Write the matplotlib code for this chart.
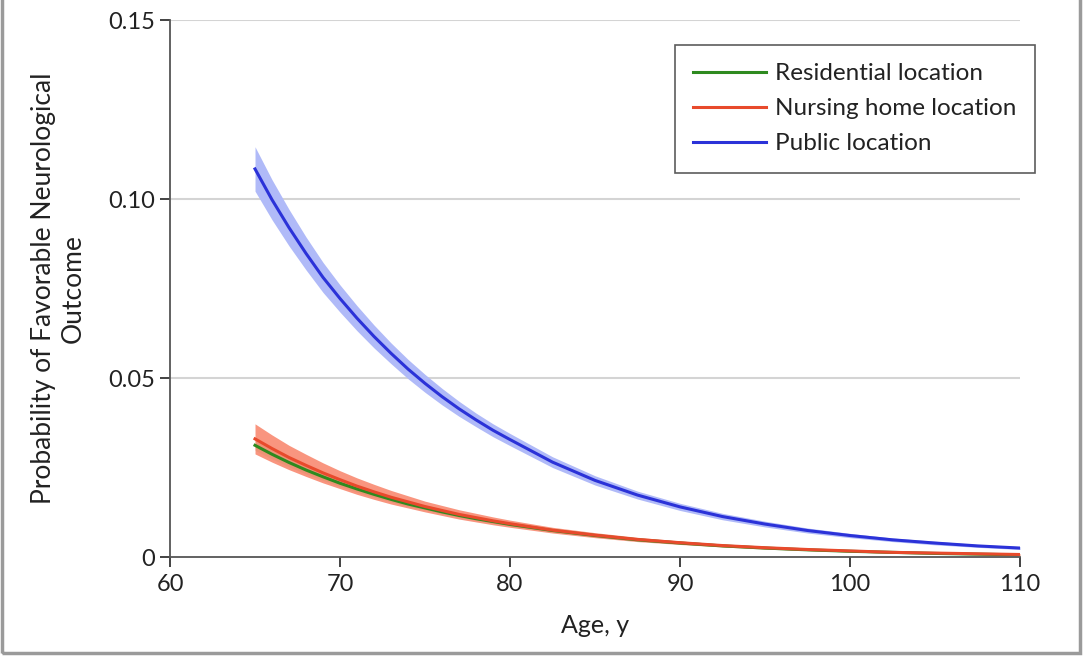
import numpy as np
import matplotlib.pyplot as plt
from matplotlib.patches import Rectangle

# values
age = [65, 66, 67, 68, 69, 70, 71, 72, 73, 74, 75, 76, 77, 78, 79, 80,
       82.5, 85, 87.5, 90, 92.5, 95, 97.5, 100, 102.5, 105, 107.5, 110]

public = [0.1084, 0.0998, 0.0920, 0.0848, 0.0781, 0.0722, 0.0667, 0.0616, 0.0569, 0.0525,
          0.0485, 0.0448, 0.0414, 0.0383, 0.0354, 0.0328, 0.0265, 0.0214, 0.0173, 0.0140,
          0.0113, 0.0092, 0.0074, 0.0060, 0.0048, 0.0039, 0.0031, 0.0025]
public_hw = [0.0062, 0.0056, 0.0051, 0.0046, 0.0042, 0.0038, 0.0035, 0.0032, 0.0029, 0.0027,
             0.0025, 0.0023, 0.0021, 0.0019, 0.0018, 0.0017, 0.0015, 0.0013, 0.0011, 0.0010,
             0.0009, 0.0008, 0.0007, 0.0006, 0.0005, 0.0005, 0.0004, 0.0004]

nursing = [0.0330, 0.0303, 0.0278, 0.0256, 0.0235, 0.0216, 0.0198, 0.0182, 0.0167, 0.0154,
           0.0141, 0.0130, 0.0119, 0.0110, 0.0101, 0.0093, 0.0075, 0.0061, 0.0049, 0.0040,
           0.0032, 0.0026, 0.0021, 0.0017, 0.0013, 0.0011, 0.0009, 0.0007]
nursing_hw = [0.0042, 0.0038, 0.0034, 0.0031, 0.0028, 0.0025, 0.0023, 0.0021, 0.0019, 0.0017,
              0.0015, 0.0014, 0.0013, 0.0012, 0.0011, 0.0010, 0.0008, 0.0007, 0.0006, 0.0005,
              0.0004, 0.0004, 0.0003, 0.0003, 0.0003, 0.0002, 0.0002, 0.0002]

residential = [0.0312, 0.0287, 0.0264, 0.0243, 0.0224, 0.0206, 0.0190, 0.0175, 0.0161, 0.0148,
               0.0137, 0.0126, 0.0116, 0.0107, 0.0099, 0.0091, 0.0074, 0.0060, 0.0048, 0.0039,
               0.0031, 0.0025, 0.0020, 0.0016, 0.0013, 0.0010, 0.0008, 0.0006]
residential_hw = [0.0014, 0.0013, 0.0012, 0.0011, 0.0010, 0.0009, 0.0009, 0.0008, 0.0007, 0.0007,
                  0.0006, 0.0006, 0.0005, 0.0005, 0.0005, 0.0004, 0.0004, 0.0003, 0.0003, 0.0003,
                  0.0002, 0.0002, 0.0002, 0.0002, 0.0002, 0.0002, 0.0002, 0.0002]

xticks = [60, 70, 80, 90, 100, 110]
yticks = [0, 0.05, 0.10, 0.15]
ylabels = ['0', '0.05', '0.10', '0.15']

plt.rcParams['font.family'] = ['Lato', 'DejaVu Sans']

fig = plt.figure(figsize=(10.87, 6.56), dpi=100)
ax = fig.add_axes([0.1564, 0.1509, 0.782, 0.8186])

a = np.array(age)
for vals, hw, col, al in [(nursing, nursing_hw, '#f9957f', 1.0),
                          (residential, residential_hw, '#d9906a', 0.4),
                          (public, public_hw, '#b0baf8', 1.0)]:
    v = np.array(vals)
    h = np.array(hw)
    ax.fill_between(a, v - h, v + h, color=col, lw=0, alpha=al)

ax.plot(age, residential, color='#2e8a1f', lw=2.2, label='Residential location')
ax.plot(age, nursing, color='#e84a2c', lw=2.2, label='Nursing home location')
ax.plot(age, public, color='#2b32d8', lw=2.2, label='Public location')

ax.set_xlim(60, 110)
ax.set_ylim(0, 0.15)
ax.set_xticks(xticks)
ax.set_yticks(yticks)
ax.set_yticklabels(ylabels)
ax.tick_params(labelsize=17, colors='#222222', length=7, width=1.2)
ax.tick_params(axis='x', pad=5)
ax.tick_params(axis='y', pad=4)
for t in ax.get_xticklines() + ax.get_yticklines():
    t.set_color('#555555')

for y in yticks[1:]:
    ax.axhline(y, color='#d4d4d4', lw=1.5, zorder=0)

for s in ['top', 'right']:
    ax.spines[s].set_visible(False)
for s in ['left', 'bottom']:
    ax.spines[s].set_color('#555555')
    ax.spines[s].set_linewidth(1.3)

ax.set_xlabel('Age, y', fontsize=18, color='#222222', labelpad=14)
ax.set_ylabel('Probability of Favorable Neurological\nOutcome', fontsize=19,
              color='#222222', labelpad=16, linespacing=1.25)

leg = ax.legend(loc='upper right', bbox_to_anchor=(1.0176, 0.9534), fontsize=17.5,
                frameon=True, fancybox=False, handlelength=3.0, handletextpad=0.4,
                labelspacing=0.58, borderpad=0.75, borderaxespad=0)
leg.get_frame().set_edgecolor('#333333')
leg.get_frame().set_linewidth(1.2)
for txt in leg.get_texts():
    txt.set_color('#222222')

# frame round the picture
fig.patches.append(Rectangle((0.002, 0.004), 0.992, 1.2, transform=fig.transFigure,
                             fill=False, edgecolor='#9a9a9a', lw=2.5))

fig.savefig('out.png', dpi=100)
